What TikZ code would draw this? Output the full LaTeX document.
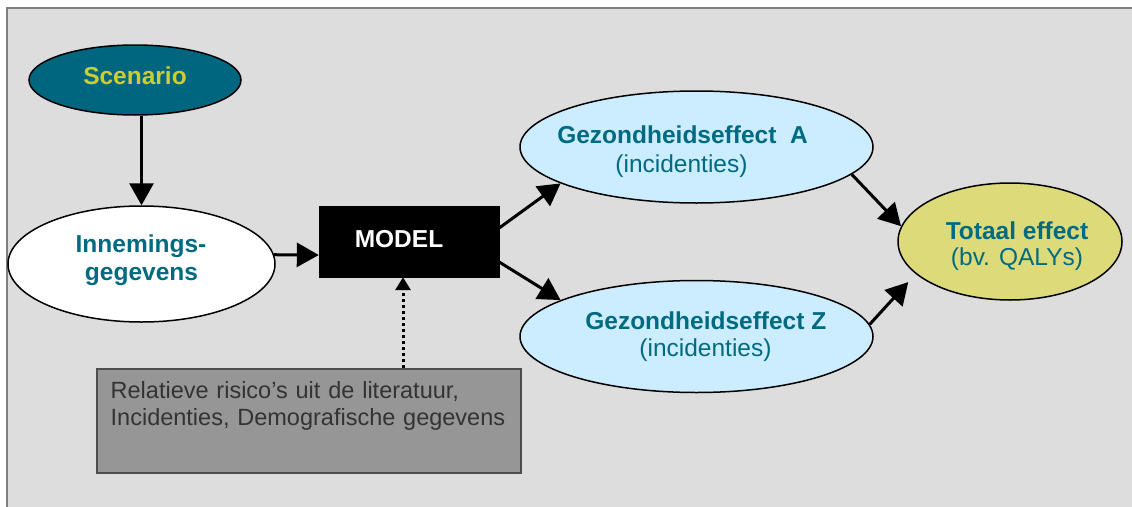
\documentclass[tikz,border=0pt]{standalone}
\usepackage{fontspec}
\setmainfont{Liberation Sans}
\usetikzlibrary{shapes.geometric,arrows.meta,calc}
\definecolor{bgc}{HTML}{DDDDDD}
\definecolor{framec}{HTML}{808080}
\definecolor{scenc}{HTML}{006680}
\definecolor{scentxt}{HTML}{CCCC33}
\definecolor{tealtxt}{HTML}{006B80}
\definecolor{bluec}{HTML}{CCECFF}
\definecolor{khakic}{HTML}{DDDA7A}
\definecolor{boxc}{HTML}{969696}
\definecolor{boxline}{HTML}{4D4D4D}
\definecolor{boxtxt}{HTML}{333333}
\begin{document}
\begin{tikzpicture}[x=1pt,y=-1pt,
  ell/.style={ellipse, draw=black, line width=1.5pt, inner sep=0pt},
  bft/.style={font=\fontsize{24.5}{28}\selectfont\bfseries, text=tealtxt, inner sep=0pt, text height=0pt, text depth=0pt},
  rgt/.style={font=\fontsize{24.5}{28}\selectfont, text=tealtxt, inner sep=0pt, text height=0pt, text depth=0pt},
  gbt/.style={font=\fontsize{23.5}{27}\selectfont, text=boxtxt, inner sep=0pt, text height=0pt, text depth=0pt, text width=400pt, align=left},
  arr/.style={line width=3pt, -{Triangle[length=22pt,width=24pt]}},
  dotarr/.style={line width=3pt, dash pattern=on 3pt off 3pt, -{Triangle[length=13pt,width=15pt]}}
]
\useasboundingbox (0,0) rectangle (1132,506);
\draw[draw=framec, line width=2pt, fill=bgc] (7,8) rectangle (1160,530);

% Scenario
\node[ell, fill=scenc, minimum width=212pt, minimum height=70pt,
  label={[bft, text=scentxt, yshift=-4.3pt]center:Scenario}] (S) at (135,80) {};

% Innemingsgegevens
\node[ell, fill=white, minimum width=267pt, minimum height=116pt,
  label={[bft, xshift=-0.5pt, yshift=11.3pt]center:Innemings-},
  label={[bft, xshift=0pt, yshift=-16.7pt]center:gegevens}] (I) at (141.5,264) {};

% MODEL
\node[draw=black, fill=black, minimum width=180pt, minimum height=71pt, inner sep=0pt,
  label={[bft, text=white, xshift=-10pt, yshift=-5.8pt]center:MODEL}] (M) at (409,241.5) {};

% Gezondheidseffect A
\node[ell, fill=bluec, minimum width=353pt, minimum height=112pt,
  label={[bft, xshift=-14pt, yshift=3.7pt]center:Gezondheidseffect~~A},
  label={[rgt, xshift=-15pt, yshift=-25.3pt]center:(incidenties)}] (A) at (696.5,147) {};

% Gezondheidseffect Z
\node[ell, fill=bluec, minimum width=353pt, minimum height=112pt,
  label={[bft, xshift=9.3pt, yshift=7.2pt]center:Gezondheidseffect Z},
  label={[rgt, xshift=9pt, yshift=-19.5pt]center:(incidenties)}] (Z) at (696.5,336.5) {};

% Totaal effect
\node[ell, fill=khakic, minimum width=224pt, minimum height=117pt,
  label={[bft, xshift=7pt, yshift=2.2pt]center:Totaal effect},
  label={[rgt, xshift=7pt, yshift=-23.5pt]center:(bv. QALYs)}] (T) at (1010,241.5) {};

% Gray box
\node[draw=boxline, line width=1.5pt, fill=boxc, minimum width=424pt, minimum height=104pt, inner sep=0pt,
  label={[gbt, xshift=1.7pt, yshift=22.7pt]center:Relatieve risico’s uit de literatuur,},
  label={[gbt, xshift=1.7pt, yshift=-4pt]center:Incidenties, Demografische gegevens}] (R) at (309,421) {};

% connectors
\draw[arr] (I.north |- S.south) -- (I.north);
\draw[arr] (I.4) -- ([yshift=-13.5pt]M.west);
\draw[arr] ([yshift=13.5pt]M.east) -- (A.195);
\draw[arr] ([yshift=-20.5pt]M.east) -- (Z.165);
\draw[arr] (A.-10) -- (T.172);
\draw[arr, shorten >=11pt] (Z.4) -- (T.199);
\coordinate (mdot) at ([xshift=-6pt]M.south);
\draw[dotarr] (R.north -| mdot) -- (mdot);
\end{tikzpicture}
\end{document}
